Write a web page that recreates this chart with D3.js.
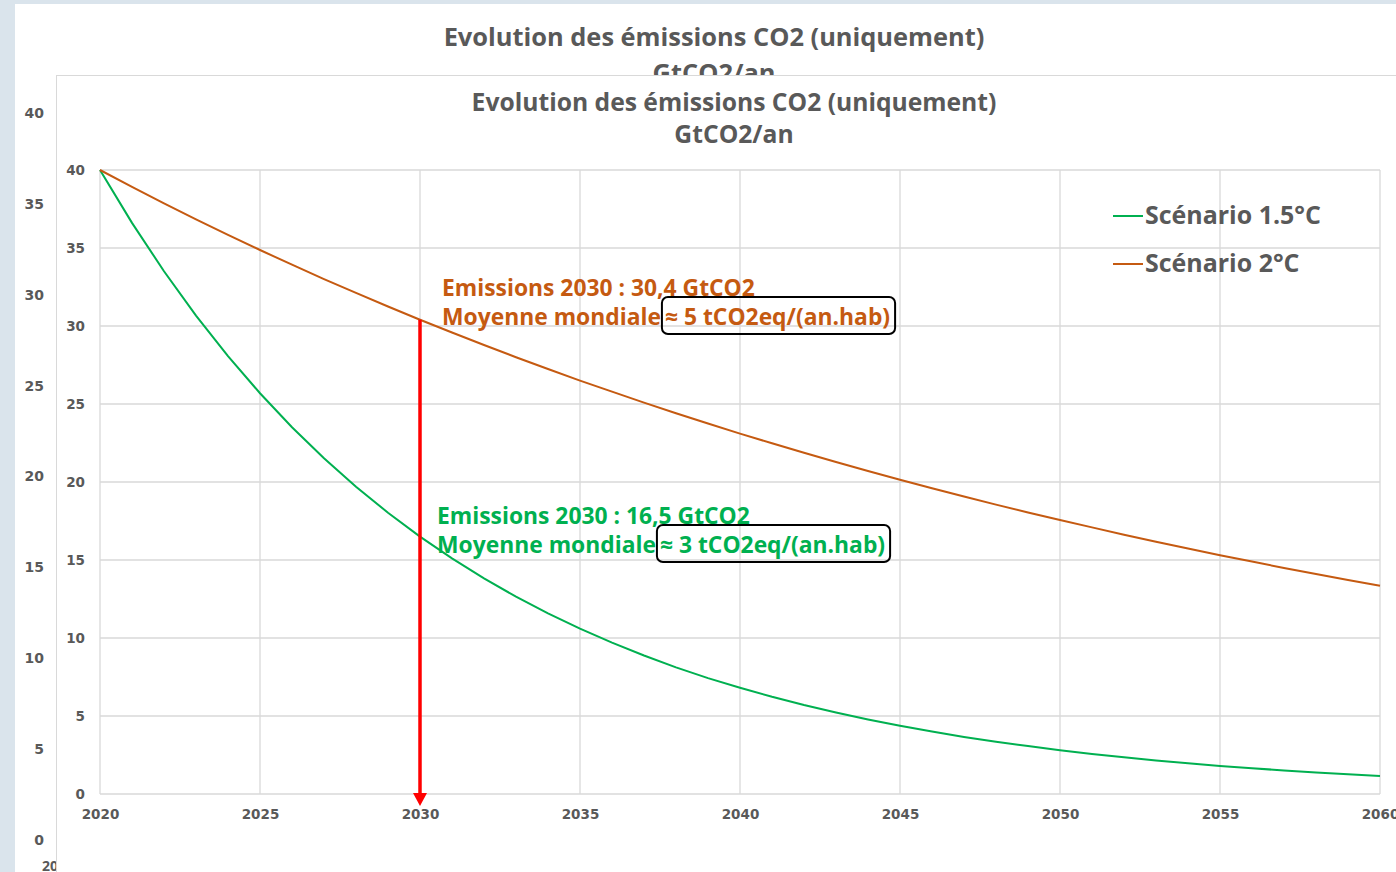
<!DOCTYPE html>
<html>
<head>
<meta charset="utf-8">
<script src="https://cdn.jsdelivr.net/npm/d3@7"></script>
<style>
  body { margin: 0; background: #dae4ec; overflow: hidden; }
  text { font-family: "Open Sans", Lato, sans-serif; }
  .tick text { font-family: "DejaVu Sans", sans-serif; font-weight: bold; fill: #595959; }
</style>
</head>
<body>
<div id="chart_area"></div>
<script>

// Years 2020..2060 and the two scenarios (GtCO2/an)
var years = d3.range(2020, 2061);

var scen_15 = [40, 36.61, 33.51, 30.67, 28.07, 25.69, 23.51, 21.52, 19.70, 18.03,
               16.50, 15.10, 13.82, 12.65, 11.58, 10.60, 9.70, 8.88, 8.12, 7.43,
               6.81, 6.23, 5.70, 5.22, 4.78, 4.37, 4.00, 3.66, 3.35, 3.07,
               2.81, 2.57, 2.35, 2.15, 1.97, 1.80, 1.65, 1.51, 1.38, 1.26, 1.16];

var scen_2 = [40, 38.92, 37.86, 36.84, 35.84, 34.87, 33.93, 33.01, 32.12, 31.25,
              30.40, 29.58, 28.78, 28.00, 27.24, 26.50, 25.79, 25.09, 24.41, 23.75,
              23.10, 22.48, 21.87, 21.28, 20.70, 20.14, 19.60, 19.07, 18.55, 18.05,
              17.56, 17.09, 16.62, 16.17, 15.74, 15.31, 14.90, 14.49, 14.10, 13.72, 13.35];

var series_names = ["Scénario 1.5°C", "Scénario 2°C"];
var x_ticks = [2020, 2025, 2030, 2035, 2040, 2045, 2050, 2055, 2060];
var y_ticks = [0, 5, 10, 15, 20, 25, 30, 35, 40];

var title_lines = ["Evolution des émissions CO2 (uniquement)", "GtCO2/an"];
var note_2 = ["Emissions 2030 : 30,4 GtCO2", "Moyenne mondiale", "≈ 5 tCO2eq/(an.hab)"];
var note_15 = ["Emissions 2030 : 16,5 GtCO2", "Moyenne mondiale", "≈ 3 tCO2eq/(an.hab)"];

var green = "#00b050", orange = "#c55a11", grey_text = "#595959", grid_col = "#d9d9d9";

var frame_width = 1396, frame_height = 872;
var svg = d3.select("#chart_area").append("svg")
    .attr("width", frame_width)
    .attr("height", frame_height);

// shrink/grow a text so that it takes the width seen in the picture
function fit(sel, target) {
  var w = sel.node().getComputedTextLength();
  var fs = +sel.attr("font-size");
  sel.attr("font-size", fs * target / w);
  return fs * target / w;
}

// ---- chart behind (mostly hidden) ----
var back = svg.append("g");
back.append("rect").attr("x", 15).attr("y", 4).attr("width", 1400).attr("height", 900).attr("fill", "white");
var bt = back.append("text").attr("x", 714).attr("y", 46).attr("text-anchor", "middle")
    .attr("font-size", 24).attr("font-weight", "bold").attr("fill", grey_text).text(title_lines[0]);
var bfs = fit(bt, 541);
back.append("text").attr("x", 714).attr("y", 82).attr("text-anchor", "middle")
    .attr("font-size", bfs).attr("font-weight", "bold").attr("fill", grey_text).text(title_lines[1]);

var yBack = d3.scaleLinear().domain([0, 40]).range([840, 113]);
back.append("g")
    .attr("transform", "translate(44,0)")
    .call(d3.axisLeft(yBack).tickValues(y_ticks).tickSize(0).tickPadding(0))
    .call(function(g){ g.select(".domain").remove(); })
    .selectAll("text").attr("font-size", 14);
back.append("text").attr("x", 42).attr("y", 871)
    .attr("font-family", "DejaVu Sans").attr("font-weight", "bold")
    .attr("font-size", 14).attr("fill", grey_text).text("2020");

// ---- chart in front ----
var front = svg.append("g");
front.append("rect").attr("x", 56.5).attr("y", 75.5).attr("width", 1400).attr("height", 900)
    .attr("fill", "white").attr("stroke", grid_col);

var xScale = d3.scaleLinear().domain([2020, 2060]).range([100, 1380]);
var yScale = d3.scaleLinear().domain([0, 40]).range([794, 170]);

// grid
front.append("g").selectAll("line").data(x_ticks).enter().append("line")
    .attr("x1", function(d){ return xScale(d); }).attr("x2", function(d){ return xScale(d); })
    .attr("y1", yScale(40)).attr("y2", yScale(0))
    .attr("stroke", grid_col).attr("stroke-width", 1.3);
front.append("g").selectAll("line").data(y_ticks).enter().append("line")
    .attr("x1", xScale(2020)).attr("x2", xScale(2060))
    .attr("y1", function(d){ return yScale(d); }).attr("y2", function(d){ return yScale(d); })
    .attr("stroke", grid_col).attr("stroke-width", 1.3);

// axes (labels only)
front.append("g")
    .attr("transform", "translate(0," + yScale(0) + ")")
    .call(d3.axisBottom(xScale).tickValues(x_ticks).tickFormat(d3.format("d")).tickSize(0).tickPadding(15))
    .call(function(g){ g.select(".domain").remove(); })
    .selectAll("text").attr("font-size", 13.5);
front.append("g")
    .attr("transform", "translate(85,0)")
    .call(d3.axisLeft(yScale).tickValues(y_ticks).tickSize(0).tickPadding(0))
    .call(function(g){ g.select(".domain").remove(); })
    .selectAll("text").attr("font-size", 13.5);

// title
var tt = front.append("text").attr("x", 734).attr("y", 111)
    .attr("text-anchor", "middle").attr("font-size", 24).attr("font-weight", "bold")
    .attr("fill", grey_text).text(title_lines[0]);
var tfs = fit(tt, 525);
front.append("text").attr("x", 734).attr("y", 143)
    .attr("text-anchor", "middle").attr("font-size", tfs).attr("font-weight", "bold")
    .attr("fill", grey_text).text(title_lines[1]);

// lines
var line = d3.line()
    .x(function(d){ return xScale(d[0]); })
    .y(function(d){ return yScale(d[1]); });

var series = [
  {name: series_names[0], values: scen_15, color: green},
  {name: series_names[1], values: scen_2, color: orange}
];
front.selectAll("path.serie").data(series).enter().append("path")
    .attr("class", "serie")
    .attr("d", function(s){ return line(years.map(function(y, i){ return [y, s.values[i]]; })); })
    .attr("fill", "none").attr("stroke", function(s){ return s.color; }).attr("stroke-width", 2);

// red arrow at 2030
var ax = xScale(2030), y_top = yScale(scen_2[10]), y_tip = yScale(0) + 12;
front.append("line").attr("x1", ax).attr("x2", ax).attr("y1", y_top).attr("y2", y_tip - 8)
    .attr("stroke", "#ff0000").attr("stroke-width", 3.5);
front.append("path")
    .attr("d", "M" + (ax - 7) + "," + (y_tip - 13) + "L" + (ax + 7) + "," + (y_tip - 13) + "L" + ax + "," + y_tip + "Z")
    .attr("fill", "#ff0000");

// legend
var legend = front.selectAll("g.legend").data(series).enter().append("g")
    .attr("class", "legend")
    .attr("transform", function(d, i){ return "translate(1113," + (216 + i * 48) + ")"; });
legend.append("line").attr("x1", 0).attr("x2", 30).attr("stroke", function(d){ return d.color; }).attr("stroke-width", 2);
var lt = legend.append("text").attr("x", 32).attr("y", 8).attr("font-size", 22).attr("font-weight", "bold")
    .attr("fill", grey_text).text(function(d){ return d.name; });
var lfs = fit(d3.select(lt.nodes()[0]), 176);
lt.attr("font-size", lfs);

// annotations
function note(lines, color, x0, y0) {
  var g = front.append("g");
  var t1 = g.append("text").attr("x", x0).attr("y", y0).attr("font-size", 20).attr("font-weight", "bold")
      .attr("fill", color).text(lines[0]);
  var fs = fit(t1, 313);
  var t2 = g.append("text").attr("x", x0).attr("y", y0 + 29).attr("font-size", fs).attr("font-weight", "bold")
      .attr("fill", color).text(lines[1]);
  var w = t2.node().getComputedTextLength();
  var t3 = g.append("text").attr("x", x0 + w + 4).attr("y", y0 + 29).attr("font-size", fs).attr("font-weight", "bold")
      .attr("fill", color).text(lines[2]);
  var w3 = t3.node().getComputedTextLength();
  g.append("rect").attr("x", x0 + w + 1).attr("y", y0 + 1).attr("width", w3 + 8).attr("height", 37)
      .attr("rx", 6).attr("fill", "none").attr("stroke", "black").attr("stroke-width", 2);
}
note(note_2, orange, 442, 296);
note(note_15, green, 437, 524);

</script>
</body>
</html>
